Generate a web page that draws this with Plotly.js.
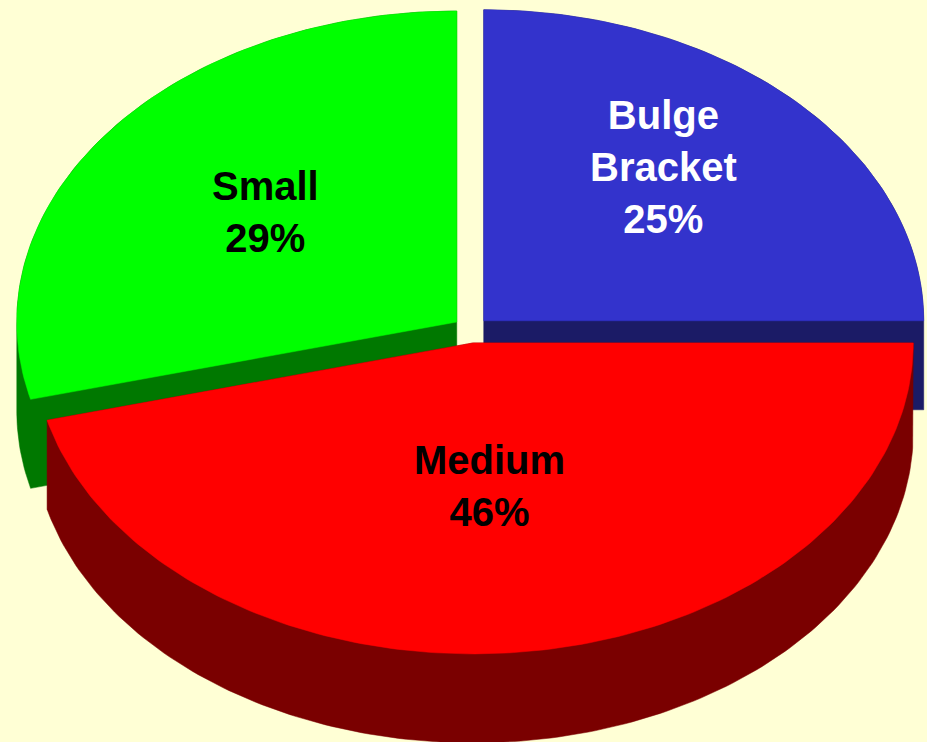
<!DOCTYPE html>
<html>
<head>
<meta charset="utf-8">
<script src="https://cdn.plot.ly/plotly-3.0.1.min.js"></script>
<style>
  html, body { margin: 0; padding: 0; background: #FFFFD5; }
  #chart { width: 927px; height: 742px; }
</style>
</head>
<body>
<div id="chart"></div>
<script>
// ---- data ----
const labels = ['Bulge Bracket', 'Medium', 'Small'];
const values = [25, 46, 29];

// ---- styles ----
const topColors  = ['#3333CC', '#FF0000', '#00FF00'];
const sideColors = ['#1B1B66', '#7A0000', '#007800'];
const textColors = ['#FFFFFF', '#000000', '#000000'];
// small label nudges (pixels) to mimic the original label placement
const labelNudgeX = [-7, -9, 10];
const labelNudgeY = [22, -2, 0];

// ---- geometry (layout) ----
const W = 927, H = 742;
const cx = 471, cy = 330;      // pie centre in px
const rx = 440, ry = 311;      // ellipse radii
const depth = 89;              // 3D thickness
const exX = 18, exY = 13;      // explosion offset
const startAngle = 90;         // degrees, clockwise

const total = values.reduce((a, b) => a + b, 0);
const rad = d => d * Math.PI / 180;

function hull(pts) {
  const p = pts.slice().sort((a, b) => a[0] - b[0] || a[1] - b[1]);
  const cross = (o, a, b) => (a[0]-o[0])*(b[1]-o[1]) - (a[1]-o[1])*(b[0]-o[0]);
  const lower = [], upper = [];
  for (const q of p) {
    while (lower.length >= 2 && cross(lower[lower.length-2], lower[lower.length-1], q) <= 0) lower.pop();
    lower.push(q);
  }
  for (let i = p.length - 1; i >= 0; i--) {
    const q = p[i];
    while (upper.length >= 2 && cross(upper[upper.length-2], upper[upper.length-1], q) <= 0) upper.pop();
    upper.push(q);
  }
  upper.pop(); lower.pop();
  return lower.concat(upper);
}

const slices = [];
let a = startAngle;
values.forEach((v, i) => {
  const sweep = v / total * 360;
  const a0 = a, a1 = a - sweep;
  a = a1;
  const mid = (a0 + a1) / 2;
  const ox = cx + exX * Math.cos(rad(mid));
  const oy = cy - exY * Math.sin(rad(mid));
  const top = [[ox, oy]];
  const n = Math.max(8, Math.ceil(sweep));
  for (let k = 0; k <= n; k++) {
    const t = a0 + (a1 - a0) * k / n;
    top.push([ox + rx * Math.cos(rad(t)), oy - ry * Math.sin(rad(t))]);
  }
  const bottom = top.map(p => [p[0], p[1] + depth]);
  const side = hull(top.concat(bottom));
  // sector centroid for label
  const half = rad(sweep / 2);
  const f = (2 / 3) * Math.sin(half) / half;
  const lx = ox + f * rx * Math.cos(rad(mid));
  const ly = oy - f * ry * Math.sin(rad(mid));
  slices.push({ i, top, side, lx, ly, pct: Math.round(v / total * 100) });
});

// draw order: back to front
const order = [0, 2, 1];
const traces = [];
order.forEach(idx => {
  const s = slices[idx];
  const sc = s.side.concat([s.side[0]]);
  traces.push({
    type: 'scatter', mode: 'lines', fill: 'toself',
    x: sc.map(p => p[0]), y: sc.map(p => p[1]),
    fillcolor: sideColors[idx], line: { color: sideColors[idx], width: 0.5 },
    hoverinfo: 'skip', showlegend: false
  });
  const tc = s.top.concat([s.top[0]]);
  traces.push({
    type: 'scatter', mode: 'lines', fill: 'toself',
    x: tc.map(p => p[0]), y: tc.map(p => p[1]),
    fillcolor: topColors[idx], line: { color: topColors[idx], width: 0.5 },
    hoverinfo: 'skip', showlegend: false
  });
});

const annotations = slices.map(s => ({
  x: s.lx, y: s.ly, xref: 'x', yref: 'y',
  xshift: labelNudgeX[s.i], yshift: labelNudgeY[s.i],
  text: labels[s.i].split(' ').join('<br>') + '<br>' + s.pct + '%',
  showarrow: false, xanchor: 'center', yanchor: 'middle', align: 'center',
  font: { family: 'Liberation Sans, Arial, sans-serif', size: 40, weight: 'bold', color: textColors[s.i] }
}));

const layout = {
  width: W, height: H,
  margin: { l: 0, r: 0, t: 0, b: 0, pad: 0 },
  paper_bgcolor: '#FFFFD5', plot_bgcolor: '#FFFFD5',
  xaxis: { range: [0, W], visible: false, fixedrange: true },
  yaxis: { range: [H, 0], visible: false, fixedrange: true },
  showlegend: false,
  annotations
};

Plotly.newPlot('chart', traces, layout, { staticPlot: true, displayModeBar: false });
</script>
</body>
</html>
